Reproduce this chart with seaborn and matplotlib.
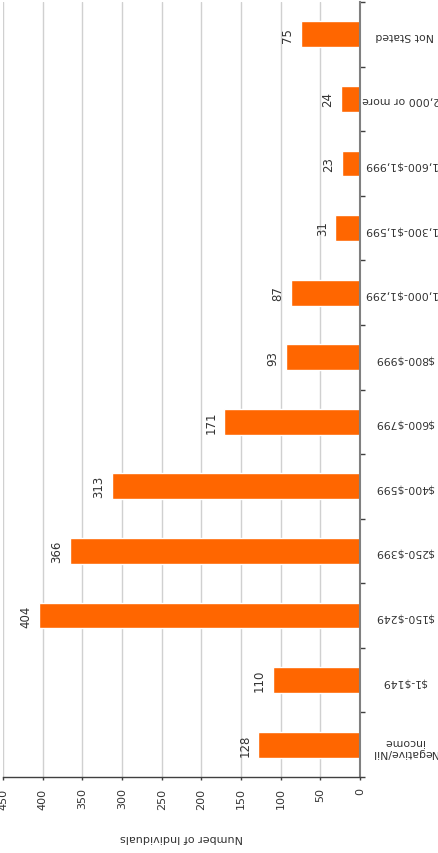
import matplotlib
matplotlib.use("Agg")
import matplotlib.pyplot as plt
import seaborn as sns
import numpy as np
import pandas as pd

categories = ["Negative/Nil\nincome", "$1-$149", "$150-$249", "$250-$399", "$400-$599",
              "$600-$799", "$800-$999", "$1,000-$1,299", "$1,300-$1,599",
              "$1,600-$1,999", "$2,000 or more", "Not Stated"]
counts = [128, 110, 404, 366, 313, 171, 93, 87, 31, 23, 24, 75]
x_ticks = [0, 50, 100, 150, 200, 250, 300, 350, 400, 450]
x_label = "Number of Individuals"

sns.set_style("white")
plt.rcParams['font.family'] = ['DejaVu Sans']
plt.rcParams['text.parse_math'] = False

df = pd.DataFrame({"category": categories, "count": counts})
order = categories[::-1]

fig = plt.figure(figsize=(4.38, 8.54), dpi=100)
ax = fig.add_axes([3/438, 76/854, 357/438, 775/854])

sns.barplot(data=df, x="count", y="category", order=order, orient="h",
            color="#FF6600", saturation=1, width=0.4, ax=ax)

ax.set_xlim(450, 0)
ax.set_ylim(11.5, -0.5)
ax.set_xticks(x_ticks)
ax.grid(axis="x", color="#d0d0d0", lw=1)
ax.grid(axis="y", visible=False)
ax.set_axisbelow(True)

for s in ["left", "top"]:
    ax.spines[s].set_visible(False)
ax.spines["right"].set_visible(True)
ax.spines["right"].set_color("#808080")
ax.spines["right"].set_linewidth(1.5)
ax.spines["bottom"].set_color("#404040")
ax.spines["bottom"].set_linewidth(1)

# y axis on the right
ax.yaxis.tick_right()
ax.set_ylabel("")
ax.tick_params(axis="y", which="major", length=0, pad=32, labelsize=7.8,
               labelcolor="#333333", labelrotation=180, right=True, left=False)
ax.set_yticks(range(len(order)))
ax.set_yticklabels(order, parse_math=False)
for lbl in ax.get_yticklabels():
    lbl.set_ha("center")
    lbl.set_multialignment("center")
ax.set_yticks(np.arange(-0.5, 12, 1), minor=True)
ax.tick_params(axis="y", which="minor", length=3.6, width=1, color="#404040",
               right=True, left=False)

# x axis
ax.tick_params(axis="x", length=2.5, width=1, color="#404040", pad=5,
               labelsize=8, labelcolor="#333333", labelrotation=90, bottom=True)
ax.set_xlabel(x_label, rotation=180, fontsize=8, color="#333333", va="center")
ax.xaxis.set_label_coords(0.5, -60/775)

# value labels
for pos, cat in enumerate(order):
    v = counts[categories.index(cat)]
    ax.annotate(str(v), xy=(v, pos), xytext=(-9.5, 0), textcoords="offset points",
                rotation=90, ha="center", va="center", fontsize=8.5, color="#333333")

fig.savefig("out.png", dpi=100)
